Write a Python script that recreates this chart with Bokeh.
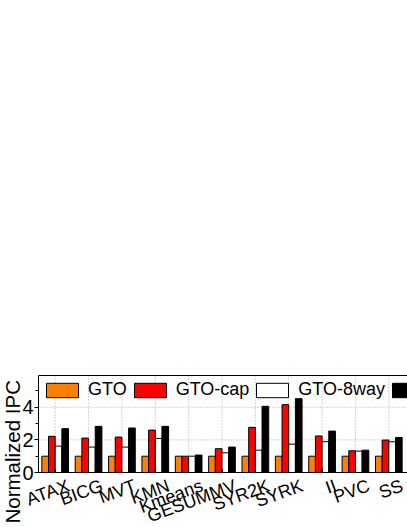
import numpy as np
from bokeh.plotting import figure
from bokeh.models import FixedTicker, Legend, LegendItem, Title, ColumnDataSource, LinearAxis
from bokeh.core.properties import value
from bokeh.embed import file_html
from bokeh.resources import INLINE

benchmarks = ["ATAX", "BICG", "MVT", "KMN", "Kmeans", "GESUMMV", "SYR2K", "SYRK", "II", "PVC", "SS"]
gto = [1.0, 1.0, 1.0, 1.0, 1.0, 1.0, 1.0, 1.0, 1.0, 1.0, 1.0]
gto_cap = [2.22, 2.11, 2.17, 2.6, 1.0, 1.46, 2.77, 4.16, 2.24, 1.33, 1.99]
gto_8way = [1.62, 1.56, 1.56, 2.09, 1.0, 1.21, 1.37, 1.74, 1.89, 1.31, 1.89]
fourth = [2.69, 2.83, 2.73, 2.83, 1.07, 1.56, 4.06, 4.53, 2.54, 1.37, 2.15]
y_ticks = [0, 2, 4]
y_minor = [1, 3, 5]
y_max = 5.95

series_names = ["GTO", "GTO-cap", "GTO-8way", ""]
series_vals = [gto, gto_cap, gto_8way, fourth]
series_colors = ["#ff8000", "#ff0000", "#ffffff", "#000000"]

FONT = "Liberation Sans"
n = len(benchmarks)
centers = np.arange(n) + 0.5
bar_w = 0.2

# layout (px): frame spans x 20..407, y 375..527; data x=0 at 38 px, x=n at 405 px, y=0 at 472 px
W, H = 407, 527
frame_l, frame_r, frame_t, frame_b = 20, 407, 375, 527
axis_x_px, end_x_px, axis_y_px = 38, 405, 472
px_x = (end_x_px - axis_x_px) / n
x_min = -(axis_x_px - frame_l) / px_x
x_max = n + (frame_r - end_x_px) / px_x
px_y = (axis_y_px - frame_t) / y_max
y_min = -(frame_b - axis_y_px) / px_y

p = figure(width=W, height=H, x_range=(x_min, x_max), y_range=(y_min, y_max),
           output_backend="svg", toolbar_location=None,
           min_border_left=frame_l, min_border_right=W - frame_r,
           min_border_top=frame_t, min_border_bottom=H - frame_b)
p.background_fill_color = "white"
p.border_fill_color = "white"
p.outline_line_color = None
p.xgrid.visible = False
p.ygrid.visible = False

# dotted guide lines
p.segment(x0=centers, y0=[0] * n, x1=centers, y1=[y_max] * n,
          line_color="#aaaaaa", line_dash="1 2", line_width=1)
p.segment(x0=[0] * 2, y0=y_ticks[1:], x1=[x_max] * 2, y1=y_ticks[1:],
          line_color="#aaaaaa", line_dash="1 2", line_width=1)

items = []
for k, (name, vals, col) in enumerate(zip(series_names, series_vals, series_colors)):
    xs = centers + (k - 1.5) * bar_w
    src = ColumnDataSource(dict(x=xs, top=vals))
    r = p.vbar(x="x", top="top", width=bar_w, bottom=0, source=src,
               fill_color=col, line_color="black", line_width=1)
    items.append(LegendItem(label=value(name), renderers=[r]))

legend = Legend(items=items, location=(22, 127), orientation="horizontal",
                glyph_width=40, glyph_height=18, label_standoff=6, spacing=3,
                padding=0, margin=0, border_line_color=None, background_fill_alpha=0,
                label_text_font=FONT, label_text_font_size="18px", label_text_color="black")
p.add_layout(legend, "center")

# y axis at x = 0
p.yaxis.fixed_location = 0
p.yaxis.ticker = FixedTicker(ticks=y_ticks, minor_ticks=y_minor)
p.yaxis.bounds = (0, y_max)
p.yaxis.major_label_text_font = FONT
p.yaxis.major_label_text_font_size = "20px"
p.yaxis.major_label_text_color = "black"
p.yaxis.major_tick_in = 0
p.yaxis.major_tick_out = 4
p.yaxis.minor_tick_in = 0
p.yaxis.minor_tick_out = 3
p.yaxis.major_label_standoff = 1
p.yaxis.axis_line_color = "black"

ytitle = Title(text="Normalized IPC", align="left", offset=4, standoff=-6,
               text_font=FONT, text_font_size="20.5px", text_font_style="normal",
               text_color="black")
p.add_layout(ytitle, "left")

# x axis at y = 0 (line + small inward ticks at group centres)
p.xaxis.fixed_location = 0
p.xaxis.bounds = (0, x_max)
p.xaxis.ticker = FixedTicker(ticks=[], minor_ticks=[float(c) for c in centers])
p.xaxis.minor_tick_in = 3
p.xaxis.minor_tick_out = 0
p.xaxis.axis_line_color = "black"

# rotated category labels
p.text(x=centers, y=[0] * n, text=benchmarks, angle=0.35, x_offset=10, y_offset=3,
       text_align="right", text_baseline="top", text_font=value(FONT),
       text_font_size=value("18px"), text_color="black")

# top border line
top_axis = LinearAxis(ticker=FixedTicker(ticks=[]), bounds=(0, x_max),
                      major_tick_in=0, major_tick_out=0, minor_tick_in=0, minor_tick_out=0,
                      axis_line_color="black")
p.add_layout(top_axis, "above")

open("out.html", "w").write(file_html(p, INLINE))
